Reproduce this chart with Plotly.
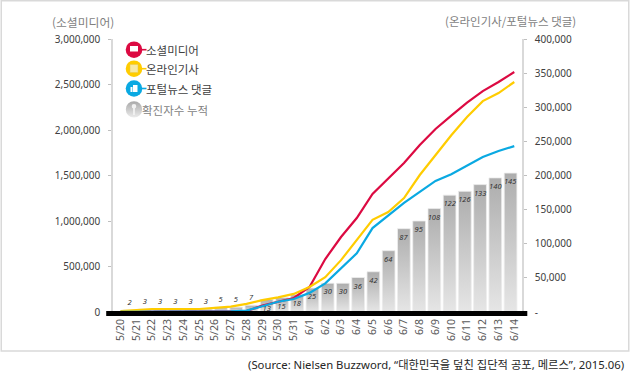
import plotly.graph_objects as go

dates = ["5/20","5/21","5/22","5/23","5/24","5/25","5/26","5/27","5/28","5/29","5/30","5/31",
         "6/1","6/2","6/3","6/4","6/5","6/6","6/7","6/8","6/9","6/10","6/11","6/12","6/13","6/14"]
social = [3000,4000,4000,4000,4000,5000,5000,6000,10000,70000,110000,154000,
          275000,582000,824000,1033000,1297000,1472000,1637000,1835000,2011000,2157000,2300000,2428000,2527000,2637000]
online = [1500,3000,4400,4400,4400,4400,6000,8000,12000,17500,21500,26500,
          36600,51000,76000,105500,135000,146500,167000,200700,230000,259000,285700,309000,320800,337000]
portal = [200,300,400,400,500,500,800,1000,2000,9000,15000,19000,
          28000,42000,64500,86000,123000,142000,160000,176000,192000,202000,215000,227000,236000,243000]
confirmed = [2,3,3,3,3,3,5,5,7,13,15,18,25,30,30,36,42,64,87,95,108,122,126,133,140,145]
left_ticks = [0,500000,1000000,1500000,2000000,2500000,3000000]
right_ticks = [0,50000,100000,150000,200000,250000,300000,350000,400000]
right_text = ["-","50,000","100,000","150,000","200,000","250,000","300,000","350,000","400,000"]

W, H = 630, 380
L, R, T, B = 112.5, 521.7, 39.0, 312.0
KR = "Noto Sans CJK KR"
LAT = "Noto Sans, Noto Sans CJK KR"
def px(x): return (x - L) / (R - L)
def py(y): return (B - y) / (B - T)

fig = go.Figure()
fig.add_trace(go.Bar(
    x=list(range(len(confirmed))), y=confirmed, xaxis="x", yaxis="y",
    marker=dict(color="#c4c4c4", line=dict(color="#ececec", width=0.8)),
    text=[str(v) for v in confirmed],
    textposition=["outside" if v < 13 else "inside" for v in confirmed],
    insidetextanchor="end", constraintext="none", cliponaxis=False,
    textangle=0,
    textfont=dict(family=LAT, size=7.5, color="#303030", style="italic"),
    showlegend=False))
fig.add_trace(go.Scatter(x=dates, y=social, xaxis="x2", yaxis="y2", mode="lines",
                         line=dict(color="#DC0A42", width=2.2), showlegend=False))
fig.add_trace(go.Scatter(x=dates, y=online, xaxis="x2", yaxis="y3", mode="lines",
                         line=dict(color="#FFCC00", width=2.2), showlegend=False))
fig.add_trace(go.Scatter(x=dates, y=portal, xaxis="x2", yaxis="y3", mode="lines",
                         line=dict(color="#0AA9E2", width=2.2), showlegend=False))

shapes = []
def rect(x0, y0, x1, y1, fill, line=None, lw=0, kind="rect", layer="above"):
    shapes.append(dict(type=kind, xref="paper", yref="paper", x0=px(x0), x1=px(x1), y0=py(y0), y1=py(y1),
                       fillcolor=fill, line=dict(color=line or fill, width=lw), layer=layer))
# frame and thick base line
rect(0.7, 0.7, 628.5, 351, "rgba(0,0,0,0)", "#d9d9d9", 1.5, layer="below")
rect(105.7, 311, 527, 316, "#000000")
# legend icons
cx = 133.5
for cy, col in [(49.7, "#DC0A42"), (68.7, "#FFCC00"), (88.5, "#0AA9E2")]:
    rect(cx + 6, cy - 0.8, 146, cy + 0.8, col)
    rect(cx - 8.3, cy - 8.3, cx + 8.3, cy + 8.3, col, kind="circle")
rect(cx - 4, 46, cx + 4, 51.5, "#ffffff")
rect(cx - 4, 64.5, cx + 4, 72.5, "#f6e9a8", "#e8c94a", 0.5)
rect(cx - 3.5, 87, cx - 1.5, 92, "#ffffff")
rect(cx - 1, 85, cx + 3.5, 92, "#ffffff")
rect(cx - 8.2, 101.2, cx + 8.2, 117.6, "rgb(191,191,192)", kind="circle")
rect(cx - 2.3, 104, cx + 2.3, 108.6, "#f2f2f2", kind="circle")
rect(cx - 0.9, 107.5, cx + 0.9, 115, "#f2f2f2")

annotations = []
def label(text, x, y, size, color, anchor="left", family=KR):
    annotations.append(dict(text=text, xref="paper", yref="paper", x=px(x), y=py(y), xanchor=anchor,
                            yanchor="middle", showarrow=False, align=anchor,
                            font=dict(family=family, size=size, color=color)))
label("소셜미디어", 143.8, 50, 11.5, "#404040")
label("온라인기사", 143.8, 69, 11.5, "#404040")
label("포털뉴스 댓글", 143.8, 88.5, 11.5, "#404040")
label("확진자수 누적", 140, 110, 11.5, "#7f7f7f")
label("(소셜미디어)", 82.5, 21, 11.8, "#7f7f7f", "center")
label("(온라인기사/포털뉴스 댓글)", 510, 21, 11.5, "#7f7f7f", "center")
label("(Source: Nielsen Buzzword, “대한민국을 덮친 집단적 공포, 메르스”, 2015.06)", 245.5, 364, 11.3, "#262626", family=LAT)

tick_font = dict(family=LAT, size=10, color="#404040")
axis_line = dict(showline=True, linecolor="#d9d9d9", linewidth=1.5, showgrid=False, zeroline=False,
                 ticks="outside", ticklen=3, tickcolor="#bfbfbf", tickwidth=1)
fig.update_layout(
    width=W, height=H, autosize=False, paper_bgcolor="#ffffff", plot_bgcolor="rgba(0,0,0,0)",
    margin=dict(l=L, r=W - R, t=T, b=H - B, pad=0),
    bargap=0.167, showlegend=False,
    xaxis=dict(range=[-1.082, 25.75], visible=False, fixedrange=True),
    yaxis=dict(range=[0, 285], visible=False, fixedrange=True),
    xaxis2=dict(overlaying="x", anchor="y2", side="bottom", type="category",
                range=[-0.476, 25.49], tickmode="array", tickvals=dates, ticktext=dates,
                tickangle=-90, ticks="", showline=False, showgrid=False, zeroline=False,
                ticklabelstandoff=4, tickfont=dict(family=LAT, size=10.5, color="#595959")),
    yaxis2=dict(overlaying="y", anchor="x2", side="left", range=[0, 3000000],
                tickmode="array", tickvals=left_ticks, tickformat=",", tickfont=tick_font,
                ticklabelstandoff=6, **axis_line),
    yaxis3=dict(overlaying="y", anchor="x2", side="right", range=[0, 400000],
                tickmode="array", tickvals=right_ticks, ticktext=right_text, tickfont=tick_font,
                ticklabelstandoff=6, **axis_line),
    shapes=shapes, annotations=annotations,
)

post = """
document.body.style.margin = '0';
var svg = document.querySelector('.main-svg');
var defs = svg.querySelector('defs');
var NS = 'http://www.w3.org/2000/svg';
function grad(id, top, bottom) {
  var g = document.createElementNS(NS, 'linearGradient');
  g.setAttribute('id', id);
  g.setAttribute('x1', '0'); g.setAttribute('y1', '0');
  g.setAttribute('x2', '0'); g.setAttribute('y2', '1');
  [[0, top], [1, bottom]].forEach(function (s) {
    var st = document.createElementNS(NS, 'stop');
    st.setAttribute('offset', s[0]); st.setAttribute('stop-color', s[1]);
    g.appendChild(st);
  });
  defs.appendChild(g);
}
grad('barGrad', '#adadad', '#e6e6e6');
grad('iconGrad', '#a8a8a8', '#ececec');
document.querySelectorAll('.barlayer .point path').forEach(function (p) {
  p.style.fill = 'url(#barGrad)'; p.style.fillOpacity = 1;
});
document.querySelectorAll('.shapelayer path').forEach(function (p) {
  if ((p.style.fill || '').replace(/ /g, '') === 'rgb(191,191,192)') { p.style.fill = 'url(#iconGrad)'; }
});
"""
fig.write_html("out.html", post_script=post, config={"displayModeBar": False})
